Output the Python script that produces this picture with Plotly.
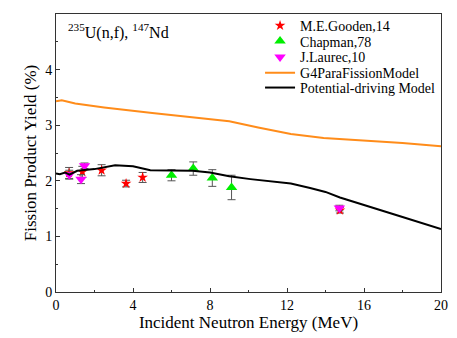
import plotly.graph_objects as go

# Experimental data
gooden_E = [0.68, 1.37, 2.37, 3.64, 4.5, 14.75]
gooden_Y = [2.14, 2.16, 2.19, 1.95, 2.06, 1.47]
gooden_err = [0.10, 0.10, 0.10, 0.06, 0.09, 0.05]

chapman_E = [6.0, 7.13, 8.12, 9.12]
chapman_Y = [2.10, 2.22, 2.05, 1.88]
chapman_err = [0.10, 0.12, 0.15, 0.22]

laurec_E = [0.69, 1.30, 1.48, 14.72]
laurec_Y = [2.11, 2.03, 2.27, 1.51]
laurec_err = [0.08, 0.08, 0.05, 0.05]

# Model curves
g4_E = [0, 0.3, 1.0, 2.5, 5.0, 7.0, 9.0, 10.5, 12.2, 13.9, 16.0, 18.0, 20.0]
g4_Y = [3.43, 3.45, 3.39, 3.32, 3.22, 3.15, 3.07, 2.96, 2.84, 2.77, 2.73, 2.68, 2.62]

pd_E = [0, 0.2, 0.47, 0.7, 1.1, 2.0, 3.07, 4.0, 4.9, 6.0, 7.1, 8.0, 9.0, 10.1, 12.2, 13.2, 14.0, 14.75, 16.0, 18.0, 20.0]
pd_Y = [2.13, 2.12, 2.15, 2.11, 2.18, 2.21, 2.28, 2.26, 2.19, 2.18, 2.18, 2.15, 2.08, 2.03, 1.95, 1.87, 1.80, 1.70, 1.57, 1.35, 1.13]

FONT = "Liberation Serif, Times New Roman, serif"
ERRC = "#555555"

fig = go.Figure()
fig.add_trace(go.Scatter(
    x=gooden_E, y=gooden_Y, mode="markers", name="M.E.Gooden,14", legend="legend",
    showlegend=True,
    marker=dict(symbol="star", size=8, color="red"),
    error_y=dict(type="data", array=gooden_err, color=ERRC, thickness=1, width=4)))
fig.add_trace(go.Scatter(
    x=chapman_E, y=chapman_Y, mode="markers", name="Chapman,78", legend="legend2",
    showlegend=True,
    marker=dict(symbol="triangle-up", size=10, color="#00ee00"),
    error_y=dict(type="data", array=chapman_err, color=ERRC, thickness=1, width=4)))
fig.add_trace(go.Scatter(
    x=laurec_E, y=laurec_Y, mode="markers", name="J.Laurec,10", legend="legend3",
    showlegend=True,
    marker=dict(symbol="triangle-down", size=10, color="#ff00ff"),
    error_y=dict(type="data", array=laurec_err, color=ERRC, thickness=1, width=4)))
fig.add_trace(go.Scatter(
    x=g4_E, y=g4_Y, mode="lines", name="G4ParaFissionModel", legend="legend4",
    showlegend=True,
    line=dict(color="#ff8c1a", width=2)))
fig.add_trace(go.Scatter(
    x=pd_E, y=pd_Y, mode="lines", name="Potential-driving Model", legend="legend5",
    showlegend=True,
    line=dict(color="black", width=2)))

fig.add_annotation(
    x=0.026, y=0.936, xref="paper", yref="paper", xanchor="left", yanchor="middle",
    text="<sup>235</sup>U(n,f), <sup>147</sup>Nd", showarrow=False,
    font=dict(family=FONT, size=16, color="black"))

axis_common = dict(
    showgrid=False, zeroline=False, showline=True, linecolor="#333333", linewidth=1,
    mirror=True, ticks="inside", ticklen=4, tickcolor="#333333", automargin=False,
    tickfont=dict(family=FONT, size=14, color="black"),
)
fig.update_xaxes(range=[0, 20], tickvals=[0, 4, 8, 12, 16, 20],
                 title=dict(text="Incident Neutron Energy (MeV)", font=dict(family=FONT, size=17, color="black"), standoff=2),
                 minor=dict(ticks="inside", ticklen=2, dtick=2, tickcolor="#333333"),
                 **axis_common)
fig.update_yaxes(range=[0, 5], tickvals=[0, 1, 2, 3, 4, 5],
                 title=dict(text="Fission Product Yield (%)", font=dict(family=FONT, size=17, color="black"), standoff=4),
                 minor=dict(ticks="inside", ticklen=2, dtick=0.5, tickcolor="#333333"),
                 **axis_common)

leg_common = dict(x=0.53, xanchor="left", yanchor="middle", bgcolor="rgba(0,0,0,0)",
                  font=dict(family=FONT, size=14, color="black"), itemwidth=30)
fig.update_layout(
    width=449, height=330,
    margin=dict(l=48, r=16, t=2, b=46),
    plot_bgcolor="white", paper_bgcolor="white",
    showlegend=True,
    font=dict(family=FONT, color="black"),
    legend=dict(y=0.957, **leg_common),
    legend2=dict(y=0.901, **leg_common),
    legend3=dict(y=0.844, **leg_common),
    legend4=dict(y=0.787, **leg_common),
    legend5=dict(y=0.734, **leg_common),
)

fig.write_html("out.html")
